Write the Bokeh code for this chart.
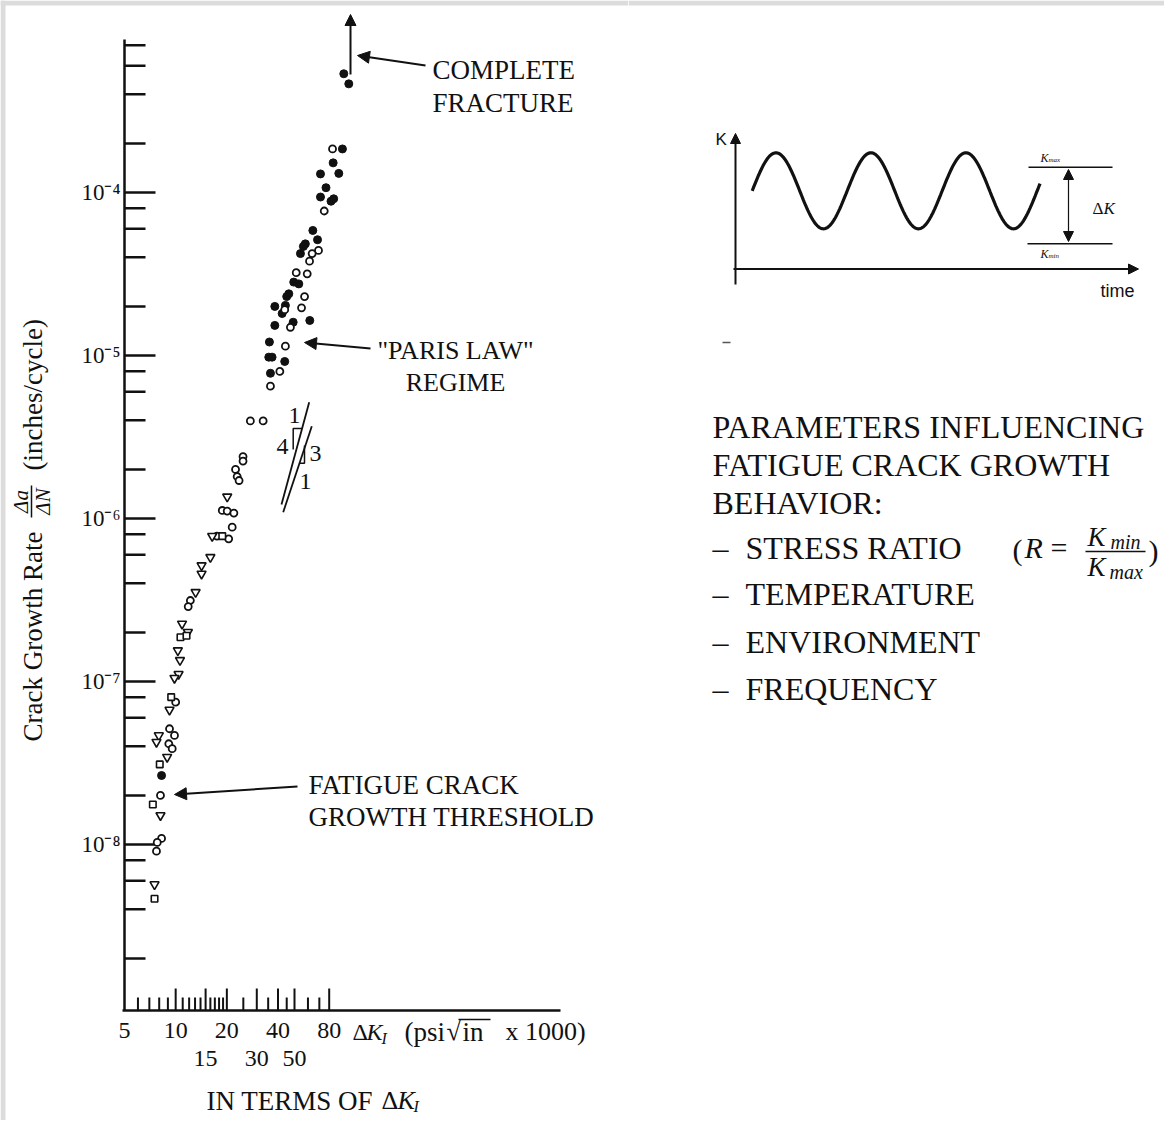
import numpy as np
from math import pi
from bokeh.plotting import figure
from bokeh.models import Range1d, Arrow, NormalHead
from bokeh.layouts import row
from bokeh.embed import file_html
from bokeh.resources import INLINE
from bokeh.core.properties import value

FONT = "Liberation Serif"
SANS = "Liberation Sans"
INK = "#111111"
MARGIN_GREY = "#dcdcdc"

# ---------------- data (ΔK in ksi·√in, growth rate in inches/cycle) ----------------
SOLID_DK = [97.5, 104.3, 95.7, 84.4, 71.1, 91.1, 76.6, 71.1, 82.0, 85.0,
            64.1, 68.3, 57.9, 56.4, 54.2, 49.5, 53.0, 46.3, 45.0, 44.2,
            38.3, 42.3, 61.5, 49.1, 38.3, 35.6, 35.3, 36.9, 43.8, 36.1, 8.26]
SOLID_RATE = [5.35e-4, 4.64e-4, 1.85e-4, 1.52e-4, 1.30e-4, 1.31e-4, 1.07e-4, 9.38e-5, 8.84e-5, 9.15e-5,
              5.85e-5, 5.13e-5, 4.84e-5, 4.67e-5, 4.22e-5, 2.82e-5, 2.75e-5, 2.39e-5, 2.30e-5, 2.03e-5,
              2.00e-5, 1.81e-5, 1.64e-5, 1.60e-5, 1.53e-5, 1.21e-5, 9.77e-6, 9.77e-6, 9.19e-6, 7.78e-6, 2.65e-8]

OPEN_DK = [83.7, 74.8, 69.2, 63.5, 61.3, 51.2, 59.4, 57.3, 55.0, 43.8,
           47.3, 44.2, 41.0, 36.1, 27.5, 32.7, 24.9, 24.9, 22.5, 23.0,
           23.6, 18.8, 20.1, 22.0, 21.5, 17.5, 20.5, 12.2, 11.85, 10.0,
           9.2, 9.84, 9.11, 9.54, 8.14, 8.26, 7.79, 7.71]
OPEN_RATE = [1.85e-4, 7.70e-5, 4.41e-5, 4.22e-5, 3.79e-5, 3.22e-5, 3.17e-5, 2.30e-5, 1.96e-5, 1.91e-5,
             1.49e-5, 1.14e-5, 7.98e-6, 6.48e-6, 3.97e-6, 3.97e-6, 2.40e-6, 2.25e-6, 2.00e-6, 1.81e-6,
             1.71e-6, 1.12e-6, 1.11e-6, 1.08e-6, 8.85e-7, 7.80e-7, 7.50e-7, 3.14e-7, 2.88e-7, 7.47e-8,
             5.13e-8, 4.67e-8, 4.15e-8, 3.87e-8, 2.00e-8, 1.09e-8, 1.03e-8, 9.1e-9]

TRI_DK = [20.1, 16.4, 16.0, 14.2, 14.2, 13.1, 10.9, 11.8, 10.3, 10.6,
          10.4, 9.84, 9.2, 7.96, 7.71, 8.91, 8.14, 7.51]
TRI_RATE = [1.36e-6, 7.80e-7, 5.79e-7, 5.15e-7, 4.58e-7, 3.53e-7, 2.26e-7, 2.01e-7, 1.55e-7, 1.35e-7,
            1.11e-7, 1.05e-7, 6.70e-8, 4.67e-8, 4.25e-8, 3.44e-8, 1.51e-8, 5.69e-9]

SQ_DK = [18.8, 10.67, 11.58, 9.41, 8.06, 7.34, 7.51]
SQ_RATE = [7.80e-7, 1.87e-7, 1.91e-7, 8.02e-8, 3.10e-8, 1.76e-8, 4.65e-9]

# ---------------- axis ticks ----------------
Y_MAJOR = [1e-8, 1e-7, 1e-6, 1e-5, 1e-4]
Y_LABELS = ["10\u207b\u2078", "10\u207b\u2077", "10\u207b\u2076", "10\u207b\u2075", "10\u207b\u2074"]
Y_MINOR = [2e-9, 4e-9, 6e-9, 8e-9, 2e-8, 4e-8, 6e-8, 8e-8, 2e-7, 4e-7, 6e-7, 8e-7,
           2e-6, 4e-6, 6e-6, 8e-6, 2e-5, 4e-5, 6e-5, 8e-5, 2e-4, 4e-4, 6e-4, 8e-4]
X_MAJOR = [10, 15, 20, 30, 40, 50, 80]
X_MINOR = [6, 7, 8, 9, 11, 12, 13, 14, 16, 17, 18, 19, 25, 35, 45, 60, 70]
X_ROW1 = [5, 10, 20, 40, 80]
X_ROW1_LABELS = ["5", "10", "20", "40", "80"]
X_ROW2 = [15, 30, 50]
X_ROW2_LABELS = ["15", "30", "50"]
X_ORIGIN = 5          # ΔK value at the vertical axis

# ---------------- page geometry (layout only) ----------------
LEFT_W, RIGHT_W, FIG_H = 628, 536, 1120


def X(px):
    return 5 * 10 ** ((px - 124) / 170.0)


def Y(py):
    return 10 ** (-4 - (py - 192) / 163.0)


Y_AXIS_BOTTOM, Y_AXIS_TOP = Y(1010), Y(39)
X_AXIS_END = X(560)

p = figure(width=LEFT_W, height=FIG_H, x_axis_type="log", y_axis_type="log",
           x_range=Range1d(X(0), X(LEFT_W)), y_range=Range1d(Y(FIG_H), Y(0)),
           x_axis_location=None, y_axis_location=None, toolbar_location=None,
           output_backend="svg", min_border=0, outline_line_color=None,
           background_fill_color="white", border_fill_color="white")
p.grid.visible = False


def ptext(fig, x, y, s, size, style="normal", align="left", baseline="middle", font=FONT, angle=0.0):
    fig.text(x=[x], y=[y], text=[s], text_font=value(font), text_font_size=size,
             text_font_style=style, text_align=align, text_baseline=baseline,
             text_color=INK, angle=angle)


def arrow(fig, x0, y0, x1, y1, w=2, size=12):
    fig.add_layout(Arrow(end=NormalHead(size=size, fill_color=INK, line_color=INK, line_width=1),
                         x_start=x0, y_start=y0, x_end=x1, y_end=y1,
                         line_width=w, line_color=INK))


# grey page margin strips (as in the reference)
p.quad(left=[X(0), X(0)], right=[X(5), X(LEFT_W)], bottom=[Y(FIG_H), Y(5)], top=[Y(0), Y(0)],
       fill_color=MARGIN_GREY, line_color=None)

# ---- axes drawn on the log scales ----
p.line([X_ORIGIN, X_ORIGIN], [Y_AXIS_BOTTOM, Y_AXIS_TOP], line_color=INK, line_width=2.5)
p.line([X(122), X_AXIS_END], [Y_AXIS_BOTTOM, Y_AXIS_BOTTOM], line_color=INK, line_width=2.5)

p.segment(x0=[X_ORIGIN] * len(Y_MAJOR), y0=Y_MAJOR, x1=[X(155)] * len(Y_MAJOR), y1=Y_MAJOR,
          line_color=INK, line_width=2.5)
p.segment(x0=[X_ORIGIN] * len(Y_MINOR), y0=Y_MINOR, x1=[X(145)] * len(Y_MINOR), y1=Y_MINOR,
          line_color=INK, line_width=2.5)
p.text(x=[X(120)] * len(Y_MAJOR), y=Y_MAJOR, text=Y_LABELS, text_font=value(FONT),
       text_font_size="23px", text_align="right", text_baseline="middle", text_color=INK)

p.segment(x0=X_MAJOR, y0=[Y_AXIS_BOTTOM] * len(X_MAJOR), x1=X_MAJOR, y1=[Y(988)] * len(X_MAJOR),
          line_color=INK, line_width=2)
p.segment(x0=X_MINOR, y0=[Y_AXIS_BOTTOM] * len(X_MINOR), x1=X_MINOR, y1=[Y(997)] * len(X_MINOR),
          line_color=INK, line_width=2)
p.text(x=X_ROW1, y=[Y(1022)] * len(X_ROW1), text=X_ROW1_LABELS, text_font=value(FONT),
       text_font_size="24px", text_align="center", text_baseline="top", text_color=INK)
p.text(x=X_ROW2, y=[Y(1050)] * len(X_ROW2), text=X_ROW2_LABELS, text_font=value(FONT),
       text_font_size="24px", text_align="center", text_baseline="top", text_color=INK)

# ---------------- data markers ----------------
p.scatter(SOLID_DK, SOLID_RATE, marker="circle", size=8, fill_color=INK, line_color=INK)
p.scatter(OPEN_DK, OPEN_RATE, marker="circle", size=7, fill_color="white", line_color=INK, line_width=1.8)
p.scatter(TRI_DK, TRI_RATE, marker="inverted_triangle", size=9, fill_color="white", line_color=INK, line_width=1.6)
p.scatter(SQ_DK, SQ_RATE, marker="square", size=6.5, fill_color="white", line_color=INK, line_width=1.6)

# ---- annotations ----
arrow(p, X(350), Y(74), X(350), Y(14), w=2, size=11)
arrow(p, X(425), Y(65), X(357), Y(55))
ptext(p, X(432), Y(69), "COMPLETE", "27px")
ptext(p, X(432), Y(102), "FRACTURE", "27px")

arrow(p, X(370), Y(348), X(304), Y(342))
ptext(p, X(455), Y(350), "\"PARIS LAW\"", "26px", align="center")
ptext(p, X(455), Y(382), "REGIME", "26px", align="center")

arrow(p, X(297), Y(786), X(174), Y(794))
ptext(p, X(308), Y(784), "FATIGUE CRACK", "27px")
ptext(p, X(308), Y(816), "GROWTH THRESHOLD", "27px")

# slope triangles
p.line([X(308.7), X(281)], [Y(401.7), Y(504)], line_color=INK, line_width=1.8)
p.line([X(311.3), X(282.7)], [Y(425.7), Y(511.7)], line_color=INK, line_width=1.8)
p.line([X(301.6), X(292.7), X(292.7)], [Y(428), Y(428), Y(449)], line_color=INK, line_width=1.5)
p.line([X(304), X(304), X(299)], [Y(445), Y(462.7), Y(462.7)], line_color=INK, line_width=1.5)
ptext(p, X(294), Y(415), "1", "24px", align="center")
ptext(p, X(282), Y(446), "4", "24px", align="center")
ptext(p, X(315), Y(453), "3", "24px", align="center")
ptext(p, X(305), Y(481), "1", "24px", align="center")

# y label (rotated) with stacked fraction
ptext(p, X(32), Y(741), "Crack Growth Rate", "27px", angle=pi / 2)
ptext(p, X(20), Y(501), "\u0394a", "21px", style="italic", align="center", angle=pi / 2)
ptext(p, X(42), Y(501), "\u0394N", "21px", style="italic", align="center", angle=pi / 2)
p.line([X(31), X(31)], [Y(485), Y(517)], line_color=INK, line_width=1.5)
ptext(p, X(32), Y(470), "(inches/cycle)", "27px", angle=pi / 2)

# x unit label
ptext(p, X(352), Y(1031), "\u0394", "24px")
ptext(p, X(366), Y(1031), "K", "24px", style="italic")
ptext(p, X(381), Y(1038), "I", "16px", style="italic")
ptext(p, X(404), Y(1031), "(psi", "27px")
ptext(p, X(446), Y(1031), "\u221a", "26px")
ptext(p, X(462), Y(1031), "in", "27px")
p.line([X(458), X(490)], [Y(1019), Y(1019)], line_color=INK, line_width=1.5)
ptext(p, X(505), Y(1031), "x 1000)", "26px")

# caption
ptext(p, X(206), Y(1100), "IN TERMS OF", "27px")
ptext(p, X(381), Y(1100), "\u0394", "26px")
ptext(p, X(397), Y(1100), "K", "26px", style="italic")
ptext(p, X(413), Y(1106), "I", "16px", style="italic")

# ---------------- right panel (schematic, page-pixel coordinates) ----------------
RX0 = LEFT_W
q = figure(width=RIGHT_W, height=FIG_H, x_range=Range1d(RX0, RX0 + RIGHT_W),
           y_range=Range1d(FIG_H, 0), x_axis_location=None, y_axis_location=None,
           toolbar_location=None, output_backend="svg", min_border=0,
           outline_line_color=None, background_fill_color="white", border_fill_color="white")
q.grid.visible = False
q.quad(left=[RX0], right=[RX0 + RIGHT_W], bottom=[5], top=[0], fill_color=MARGIN_GREY, line_color=None)

WAVE_START, WAVE_PERIOD, WAVE_CYCLES = 751.7, 95.0, 3.03
WAVE_MID, WAVE_AMP = 190.3, 38.0
wave_x = np.linspace(WAVE_START, WAVE_START + WAVE_CYCLES * WAVE_PERIOD, 400)
wave_y = WAVE_MID - WAVE_AMP * np.sin(2 * np.pi * (wave_x - WAVE_START) / WAVE_PERIOD)
q.line(wave_x, wave_y, line_color=INK, line_width=3.2)

arrow(q, 735, 284, 735, 133, w=2, size=10)
arrow(q, 733, 268.5, 1138, 268.5, w=2, size=10)
ptext(q, 715, 139, "K", "17px", font=SANS)
ptext(q, 1100, 290, "time", "18px", font=SANS)

q.segment(x0=[1028, 1027], y0=[166.7, 243.3], x1=[1112, 1112], y1=[166.7, 243.3],
          line_color=INK, line_width=1.6)
q.add_layout(Arrow(start=NormalHead(size=10, fill_color=INK, line_color=INK),
                   end=NormalHead(size=10, fill_color=INK, line_color=INK),
                   x_start=1068, y_start=241, x_end=1068, y_end=169,
                   line_width=1.2, line_color=INK))
ptext(q, 1040, 157, "K", "12px", style="italic")
ptext(q, 1048, 159, "max", "7px", style="italic")
ptext(q, 1040, 253, "K", "12px", style="italic")
ptext(q, 1048, 255, "min", "7px", style="italic")
ptext(q, 1092, 207.5, "\u0394", "17px")
ptext(q, 1103, 207.5, "K", "17px", style="italic")

q.segment(x0=[722], y0=[342], x1=[730], y1=[342], line_color="#555555", line_width=1.5)

ptext(q, 712, 426, "PARAMETERS INFLUENCING", "32px")
ptext(q, 712, 464, "FATIGUE CRACK GROWTH", "32px")
ptext(q, 712, 502, "BEHAVIOR:", "32px")
ITEMS = ["STRESS RATIO", "TEMPERATURE", "ENVIRONMENT", "FREQUENCY"]
ITEM_MID = [547, 593, 641, 688]
for item, ym in zip(ITEMS, ITEM_MID):
    ptext(q, 712, ym, "\u2013", "32px")
    ptext(q, 745, ym, item, "32px")

ptext(q, 1012, 549, "(", "30px")
ptext(q, 1024, 547, "R", "30px", style="italic")
ptext(q, 1050, 547, "=", "30px")
ptext(q, 1087, 536, "K", "27px", style="italic")
ptext(q, 1110, 541, "min", "20px", style="italic")
q.segment(x0=[1085], y0=[551], x1=[1145], y1=[551], line_color=INK, line_width=1.6)
ptext(q, 1087, 566, "K", "27px", style="italic")
ptext(q, 1109, 571, "max", "20px", style="italic")
ptext(q, 1148, 550, ")", "30px")

layout = row(p, q)
html = file_html(layout, INLINE, title="Fatigue crack growth")
open("out.html", "w").write(html)
